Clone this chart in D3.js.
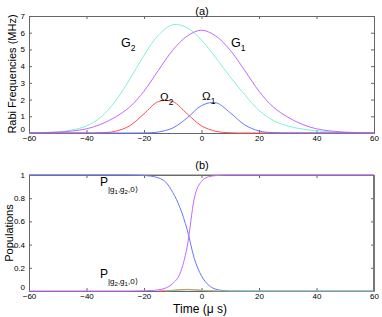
<!DOCTYPE html>
<html>
<head>
<meta charset="utf-8">
<script src="https://cdn.jsdelivr.net/npm/d3@7"></script>
<style>
body { margin: 0; background: #fff; }
text { font-family: "Liberation Sans", Arial, sans-serif; fill: #000; }
.tick text { font-size: 8px; }
</style>
</head>
<body>
<svg width="382" height="317"></svg>
<script>
// panel (a): Rabi frequencies, sampled every 5 us
var timesA = [-60,-55,-50,-45,-40,-35,-30,-25,-20,-15,-10,-5,0,5,10,15,20,25,30,35,40,45,50,55,60];
var G2 = [0.01,0.03,0.07,0.18,0.42,0.95,1.9,3.2,4.65,5.85,6.48,6.3,5.55,4.5,3.35,2.3,1.35,0.75,0.42,0.24,0.13,0.07,0.03,0.01,0.005];
var G1 = [0.01,0.02,0.05,0.12,0.25,0.52,0.95,1.55,2.5,3.75,4.95,5.8,6.15,5.8,4.95,3.75,2.5,1.55,0.95,0.52,0.25,0.12,0.05,0.02,0.01];
var Omega2 = [0,0,0,0,0,0.014,0.1,0.43,1.15,1.88,1.88,1.15,0.43,0.1,0.014,0,0,0,0,0,0,0,0,0,0];
var Omega1 = [0,0,0,0,0,0,0,0,0.007,0.06,0.3,0.9,1.64,1.81,1.21,0.49,0.12,0.02,0,0,0,0,0,0,0];

// panel (b): populations
var timesB = [-60,-40,-25,-20,-17.5,-15,-12.5,-10,-7.5,-5,-2.5,0,2.5,5,7.5,10,15,25,40,60];
var popTotal = [1,1,1,1,1,1,1,1,1,1,1,1,1,1,1,1,1,1,1,1];
var popG1G2 = [1,1,1,0.995,0.99,0.975,0.94,0.85,0.72,0.53,0.28,0.13,0.05,0.015,0.004,0.001,0,0,0,0];
var popG2G1 = [0,0,0,0.002,0.004,0.01,0.025,0.065,0.15,0.38,0.8,0.945,0.985,0.995,0.999,1,1,1,1,1];
var popE = [0,0,0,0,0,0,0.002,0.006,0.011,0.014,0.011,0.006,0.002,0,0,0,0,0,0,0];
var popC = [0,0,0,0,0,0,0.001,0.004,0.008,0.01,0.009,0.005,0.002,0.001,0,0,0,0,0,0];

var xTicks = [-60,-40,-20,0,20,40,60];
var yTicksA = [0,1,2,3,4,5,6,7];
var yTicksB = [0,0.2,0.4,0.6,0.8,1];

var svg = d3.select("svg");
var left = 29, right = 374;

function panel(top, bottom, yMax, yTicks, yFmt) {
  var x = d3.scaleLinear().domain([-60,60]).range([left,right]);
  var y = d3.scaleLinear().domain([0,yMax]).range([bottom,top]).clamp(true);
  var g = svg.append("g");
  // box with inward ticks on all sides
  g.append("g").attr("transform","translate(0,"+bottom+")")
    .call(d3.axisBottom(x).tickValues(xTicks).tickSizeInner(-3).tickSizeOuter(0).tickPadding(2)
      .tickFormat(function(d){ return d<0 ? "\u2212"+(-d) : d; }));
  g.append("g").attr("transform","translate(0,"+top+")")
    .call(d3.axisTop(x).tickValues(xTicks).tickSizeInner(-3).tickSizeOuter(0).tickFormat(""));
  var ya = g.append("g").attr("transform","translate("+left+",0)")
    .call(d3.axisLeft(y).tickValues(yTicks).tickSizeInner(-3).tickSizeOuter(0).tickPadding(4).tickFormat(yFmt));
  // lift the "0" label a little so it clears the -60 below it
  ya.selectAll(".tick text").filter(function(d){ return d === 0; }).attr("dy","-0.2em");
  g.append("g").attr("transform","translate("+right+",0)")
    .call(d3.axisRight(y).tickValues(yTicks).tickSizeInner(-3).tickSizeOuter(0).tickFormat(""));
  g.selectAll(".domain").attr("stroke","#666");
  g.selectAll(".tick line").attr("stroke","#666");
  return {x:x, y:y, g:g};
}

function curve(p, xs, ys, color, c) {
  var line = d3.line().x(function(d,i){ return p.x(xs[i]); }).y(function(d){ return p.y(d); }).curve(c);
  p.g.append("path").datum(ys).attr("d", line)
    .attr("fill","none").attr("stroke",color).attr("stroke-width",1);
}

function label(px, py, main, sub, size, subSize) {
  var t = svg.append("text").attr("x",px).attr("y",py).style("font-size",size+"px");
  t.append("tspan").text(main);
  t.append("tspan").attr("dy",4).style("font-size",subSize+"px").text(sub);
}

// ---- (a)
var a = panel(16, 133, 7, yTicksA, d3.format("d"));
curve(a, timesA, G2, "#80f2d6", d3.curveCatmullRom);
curve(a, timesA, G1, "#c468ff", d3.curveCatmullRom);
curve(a, timesA, Omega2, "#ff4d4d", d3.curveCatmullRom);
curve(a, timesA, Omega1, "#6676ff", d3.curveCatmullRom);

svg.append("text").attr("x",202).attr("y",15).attr("text-anchor","middle").style("font-size","11px").text("(a)");
svg.append("text").attr("transform","translate(16,74) rotate(-90)").attr("text-anchor","middle")
  .style("font-size","11px").text("Rabi Frequencies (MHz)");

label(a.x(-28), a.y(5.15), "G", "2", 12.5, 8.5);
label(a.x(10.3), a.y(5.15), "G", "1", 12.5, 8.5);
label(a.x(-14.4), a.y(1.9), "\u03A9", "2", 11.5, 8.5);
label(a.x(0.2), a.y(1.97), "\u03A9", "1", 11.5, 8.5);

// ---- (b)
var b = panel(175, 291, 1, yTicksB, function(d){ return d===0||d===1 ? d : d3.format(".1f")(d); });
curve(b, timesB, popTotal, "#707070", d3.curveMonotoneX);
curve(b, timesB, popG1G2, "#6676ff", d3.curveMonotoneX);
curve(b, timesB, popG2G1, "#c468ff", d3.curveMonotoneX);
curve(b, timesB.slice(5, 14), popE.slice(5, 14), "#ff5a5a", d3.curveMonotoneX);
curve(b, timesB.slice(6), popC.slice(6), "#90c890", d3.curveMonotoneX);
b.g.append("line").attr("x1",right).attr("x2",right).attr("y1",175).attr("y2",291)
  .attr("stroke","#777").attr("stroke-width",2);

svg.append("text").attr("x",202).attr("y",169).attr("text-anchor","middle").style("font-size","11px").text("(b)");
svg.append("text").attr("transform","translate(13,233) rotate(-90)").attr("text-anchor","middle")
  .style("font-size","11px").text("Populations");
svg.append("text").attr("x",200).attr("y",313).attr("text-anchor","middle").style("font-size","12px").text("Time (\u03BC s)");

function popLabel(px, py, s1, s2) {
  var t = svg.append("text").attr("x",px).attr("y",py).style("font-size","12px");
  t.append("tspan").text("P");
  t.append("tspan").attr("dy",6).style("font-size","8px").text("|g");
  t.append("tspan").attr("dy",2).style("font-size","6px").text(s1);
  t.append("tspan").attr("dy",-2).style("font-size","8px").text(",g");
  t.append("tspan").attr("dy",2).style("font-size","6px").text(s2);
  t.append("tspan").attr("dy",-2).style("font-size","8px").text(",0\u27E9");
}
popLabel(100, 186, "1", "2");
popLabel(100, 278, "2", "1");
</script>
</body>
</html>
